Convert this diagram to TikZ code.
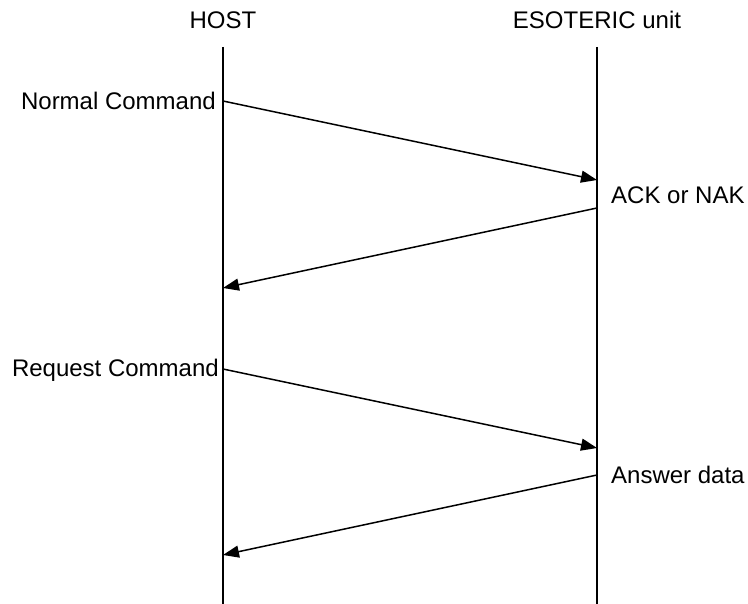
\documentclass[tikz,border=0pt]{standalone}
\usepackage{fontspec}
\setmainfont{Liberation Sans}
\usetikzlibrary{arrows.meta}
\begin{document}
\begin{tikzpicture}[x=1pt,y=-1pt,
  lifeline/.style={line width=1.5pt},
  msg/.style={line width=1.5pt,-{Triangle[length=16pt,width=12pt]}},
  lbl/.style={inner sep=0pt,font=\fontsize{24}{28}\selectfont}]
\useasboundingbox (0,0) rectangle (748,604);
\node[lbl] (host) at (223,20) {HOST};
\node[lbl] (unit) at (597,20) {ESOTERIC unit};
\coordinate (h0) at (223,47);
\coordinate (h1) at (223,604);
\coordinate (u0) at (597,47);
\coordinate (u1) at (597,604);
\draw[lifeline] (h0) -- (h1);
\draw[lifeline] (u0) -- (u1);
\coordinate (a1s) at (223,101);
\coordinate (a1e) at (597,180);
\coordinate (a2s) at (597,208);
\coordinate (a2e) at (223,288);
\coordinate (a3s) at (223,369);
\coordinate (a3e) at (597,448);
\coordinate (a4s) at (597,475);
\coordinate (a4e) at (223,555);
\draw[msg] (a1s) -- (a1e);
\draw[msg] (a2s) -- (a2e);
\draw[msg] (a3s) -- (a3e);
\draw[msg] (a4s) -- (a4e);
\node[lbl,anchor=east] (nc) at (216,101) {Normal Command};
\node[lbl,anchor=west] (ack) at (611,195) {ACK or NAK};
\node[lbl,anchor=east] (rc) at (219,370) {Request Command};
\node[lbl,anchor=west] (ans) at (611,475) {Answer data};
\end{tikzpicture}
\end{document}
